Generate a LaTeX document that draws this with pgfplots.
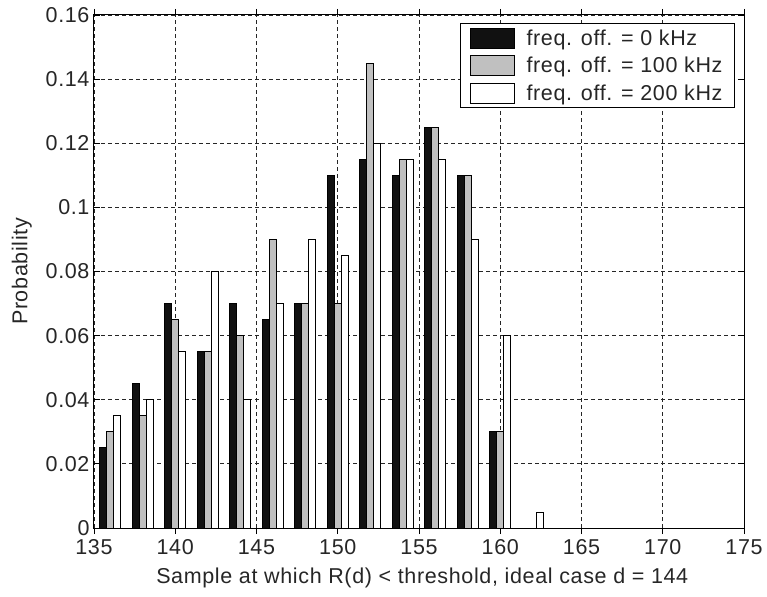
\documentclass[border=0pt]{standalone}
\usepackage{pgfplots}
\pgfplotsset{compat=1.18}
\usepackage{fontspec}
\setmainfont[LetterSpace=3]{Liberation Sans}
\definecolor{barblack}{RGB}{17,17,17}
\definecolor{bargray}{RGB}{192,192,192}
\begin{document}
\begin{tikzpicture}
\begin{axis}[
  at={(0pt,0pt)}, anchor=south west,
  scale only axis, width=650pt, height=513pt,
  xmin=135, xmax=175, ymin=0, ymax=0.16,
  xtick={135,140,...,175},
  ytick={0,0.02,...,0.16},
  scaled y ticks=false,
  yticklabel style={/pgf/number format/fixed,/pgf/number format/precision=2},
  /pgf/number format/assume math mode=true,
  tick label style={font=\fontsize{21.5}{25}\selectfont, text=black!85},
  xticklabel style={yshift=-2pt},
  yticklabel style={xshift=-1pt},
  label style={font=\fontsize{21.5}{25}\selectfont, text=black!85},
  xlabel={Sample at which R(d) < threshold, ideal case d = 144},
  ylabel={Probability},
  xlabel style={at={(axis description cs:0.505,-0.0975)}, anchor=center},
  ylabel style={at={(axis description cs:-0.111,0.5)}, anchor=center},
  grid=major,
  major grid style={black!85, dashed, dash pattern=on 4pt off 3pt, line width=0.9pt},
  tick align=inside, tick pos=both,
  major tick length=6pt,
  tick style={black, line width=0.8pt},
  axis line style={black, line width=1pt},
  ybar, bar width=0.43,
  every axis plot/.append style={draw=black, line width=0.9pt},
  legend cell align=left,
  legend style={at={(0.986,0.984)}, anchor=north east, draw=black, line width=0.9pt,
    font=\fontsize{21.5}{25}\selectfont, text=black!85,
    row sep=6.5pt, inner xsep=10pt, inner ysep=4pt},
  legend image code/.code={\draw[#1,draw=black,line width=0.9pt] (0pt,-10pt) rectangle (44pt,10pt);
    \path[draw=none,fill=none] (0pt,0pt) -- (54pt,0pt);},
]
\addplot[fill=barblack, bar shift=-0.43] coordinates {
 (136,0.025) (138,0.045) (140,0.07) (142,0.055) (144,0.07) (146,0.065) (148,0.07)
 (150,0.11) (152,0.115) (154,0.11) (156,0.125) (158,0.11) (160,0.03)};
\addplot[fill=bargray, bar shift=0] coordinates {
 (136,0.03) (138,0.035) (140,0.065) (142,0.055) (144,0.06) (146,0.09) (148,0.07)
 (150,0.07) (152,0.145) (154,0.115) (156,0.125) (158,0.11) (160,0.03)};
\addplot[fill=white, bar shift=0.43] coordinates {
 (136,0.035) (138,0.04) (140,0.055) (142,0.08) (144,0.04) (146,0.07) (148,0.09)
 (150,0.085) (152,0.12) (154,0.115) (156,0.115) (158,0.09) (160,0.06) (162,0.005)};
\legend{freq. off. = 0 kHz, freq. off. = 100 kHz, freq. off. = 200 kHz}
\end{axis}
\path[use as bounding box] (-94pt,-68pt) rectangle (673pt,528pt);
\end{tikzpicture}
\end{document}
